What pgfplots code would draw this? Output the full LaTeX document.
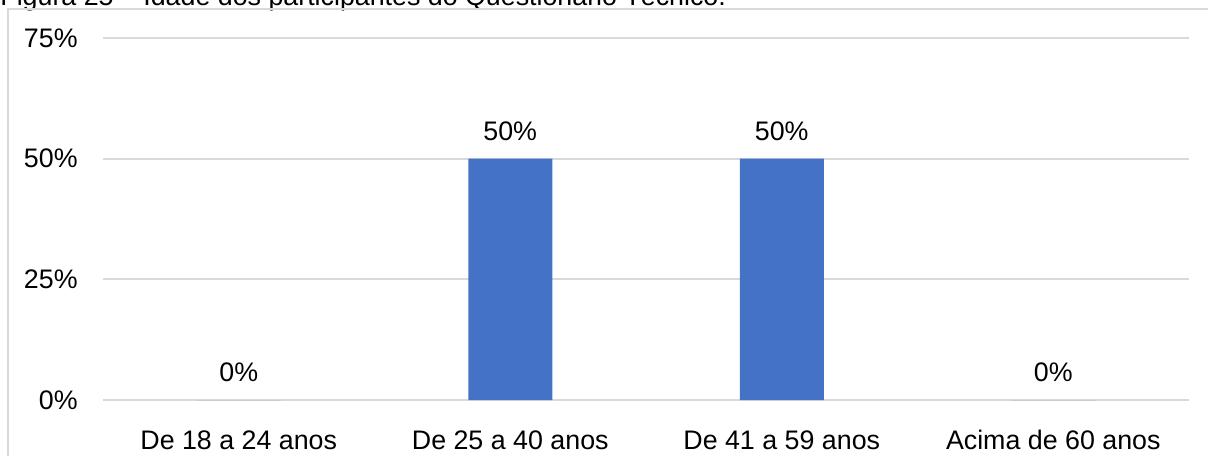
\documentclass[border=0pt]{standalone}
\usepackage{pgfplots}
\pgfplotsset{compat=1.18}
\usepackage{fontspec}
\setmainfont{Liberation Sans}
\definecolor{barblue}{HTML}{4472C4}
\definecolor{gridgray}{HTML}{D9D9D9}
\definecolor{framegray}{HTML}{D9D9D9}

\begin{document}
\begin{tikzpicture}[x=1bp,y=1bp]
  % page area
  \clip (0,0) rectangle (604,227.5);
  \useasboundingbox (0,0) rectangle (604,227.5);
  % caption above the chart box
  \node[anchor=base west, inner sep=0pt, font=\fontsize{13.4bp}{16bp}\selectfont]
    at (0,224.8) {Figura 25 – Idade dos participantes do Questionário Técnico.};
  % chart frame
  \draw[framegray, line width=0.75bp] (4,-5) -- (4,223) -- (610,223);
  \begin{axis}[
    at={(51.5bp,27.5bp)}, anchor=south west,
    scale only axis,
    width=543bp, height=181bp,
    xmin=-0.5, xmax=3.5,
    ymin=0, ymax=75,
    ytick={0,25,50,75},
    yticklabel={\pgfmathprintnumber{\tick}\%},
    xtick={0,1,2,3},
    xticklabels={De 18 a 24 anos, De 25 a 40 anos, De 41 a 59 anos, Acima de 60 anos},
    axis line style={draw=none},
    tick style={draw=none},
    ymajorgrids,
    grid style={gridgray, line width=0.9bp},
    /pgf/number format/assume math mode=true,
    tick label style={font=\fontsize{13.4bp}{16bp}\selectfont, inner sep=0pt},
    yticklabel style={xshift=-12.5bp},
    xticklabel style={anchor=north, yshift=-10.8bp},
    ybar, bar width=42bp,
    nodes near coords={\pgfmathprintnumber{\pgfplotspointmeta}\%},
    nodes near coords style={font=\fontsize{13.4bp}{16bp}\selectfont, inner sep=0pt, anchor=south, yshift=8.8bp},
    clip=false,
  ]
    \addplot[fill=barblue, draw=none] coordinates {(0,0) (1,50) (2,50) (3,0)};
  \end{axis}
\end{tikzpicture}
\end{document}
